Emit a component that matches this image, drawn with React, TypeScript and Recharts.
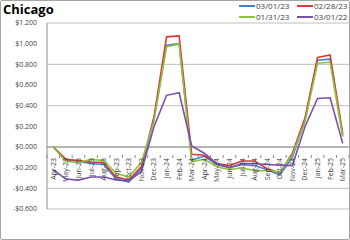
import React from 'react';
import { LineChart, Line, XAxis, YAxis, CartesianGrid, ReferenceLine } from 'recharts';

const months = [
  'Apr-23', 'May-23', 'Jun-23', 'Jul-23', 'Aug-23', 'Sep-23', 'Oct-23', 'Nov-23', 'Dec-23', 'Jan-24', 'Feb-24', 'Mar-24',
  'Apr-24', 'May-24', 'Jun-24', 'Jul-24', 'Aug-24', 'Sep-24', 'Oct-24', 'Nov-24', 'Dec-24', 'Jan-25', 'Feb-25', 'Mar-25',
];

const s030123 = [0.0, -0.12, -0.14, -0.16, -0.17, -0.31, -0.34, -0.21, 0.27, 0.985, 1.0, -0.125,
  -0.09, -0.17, -0.2, -0.17, -0.18, -0.22, -0.27, -0.1, 0.26, 0.84, 0.85, 0.11];
const s022823 = [0.0, -0.12, -0.13, -0.145, -0.15, -0.29, -0.32, -0.19, 0.29, 1.066, 1.075, -0.07,
  -0.08, -0.16, -0.18, -0.135, -0.135, -0.21, -0.25, -0.06, 0.28, 0.866, 0.89, 0.13];
const s013123 = [0.0, -0.14, -0.15, -0.12, -0.13, -0.255, -0.29, -0.15, 0.25, 0.97, 0.995, -0.14,
  -0.12, -0.19, -0.22, -0.2, -0.23, -0.23, -0.24, -0.08, 0.245, 0.81, 0.82, 0.1];
const s030122 = [-0.22, -0.31, -0.32, -0.29, -0.29, -0.32, -0.325, -0.24, 0.196, 0.5, 0.525, 0.01,
  -0.06, -0.16, -0.2, -0.16, -0.16, -0.17, -0.175, -0.18, 0.196, 0.47, 0.476, 0.035];

const yTicks = [-0.6, -0.4, -0.2, 0, 0.2, 0.4, 0.6, 0.8, 1.0, 1.2];

const series = [
  { key: 'a', name: '03/01/23', color: '#3f7fd6', values: s030123 },
  { key: 'b', name: '02/28/23', color: '#d93a35', values: s022823 },
  { key: 'c', name: '01/31/23', color: '#8cc43c', values: s013123 },
  { key: 'd', name: '03/01/22', color: '#7a4fb0', values: s030122 },
];

const data = months.map((m, i) => {
  const row: any = { month: m };
  series.forEach(s => { row[s.key] = s.values[i]; });
  return row;
});

const W = 350;
const H = 240;
const TOP = 23;
const BOTTOM = 31;
const LEFT = 47;
const RIGHT = 1;
const PLOT_H = H - TOP - BOTTOM;
const BAND = (W - LEFT - RIGHT) / months.length;
const Y_MIN = -0.6;
const Y_MAX = 1.2;
// distance from bottom of plot to the zero line
const ZERO_UP = PLOT_H * (0 - Y_MIN) / (Y_MAX - Y_MIN);
const FONT = '"Open Sans", "Noto Sans", sans-serif';

const fmt = (v: number) => (v < 0 ? '-$' + Math.abs(v).toFixed(3) : '$' + v.toFixed(3));

const MonthTick = (props: any) => {
  const { x, y, payload } = props;
  const zy = y - ZERO_UP;
  return (
    <g>
      <line x1={x - BAND / 2} x2={x - BAND / 2} y1={zy} y2={zy + 3} stroke="#8c8c8c" />
      {payload.index === months.length - 1 && (
        <line x1={x + BAND / 2} x2={x + BAND / 2} y1={zy} y2={zy + 3} stroke="#8c8c8c" />
      )}
      <text
        x={x + 2.5}
        y={zy + 3}
        transform={`rotate(-90 ${x + 2.5} ${zy + 3})`}
        textAnchor="end"
        fontSize={7}
        fill="#404040"
        fontFamily={FONT}
      >
        {payload.value}
      </text>
    </g>
  );
};

const LegendBox = () => (
  <div style={{ position: 'absolute', left: 239, top: 0, display: 'grid', gridTemplateColumns: '58px 52px', fontFamily: FONT, fontSize: 8, color: '#404040' }}>
    {series.map(s => (
      <div key={s.key} style={{ display: 'flex', alignItems: 'center', height: 11 }}>
        <span style={{ display: 'inline-block', width: 16, height: 2, background: s.color, marginRight: 1 }} />
        <span>{s.name}</span>
      </div>
    ))}
  </div>
);

export default function App() {
  return (
    <div style={{ position: 'absolute', left: 0, top: 0, width: W, height: H, background: '#fff', overflow: 'hidden' }}>
      <div style={{ position: 'absolute', left: 0, top: 0, width: W, height: H, boxSizing: 'border-box', border: '1px solid #a6a6a6', borderRadius: 2, pointerEvents: 'none', zIndex: 2 }} />
      <div style={{ position: 'absolute', left: 3, top: 0, fontFamily: FONT, fontWeight: 700, fontSize: 13, color: '#000', lineHeight: '19px' }}>
        Chicago
      </div>
      <LegendBox />
      <div style={{ position: 'absolute', left: 0, top: 0 }}>
        <LineChart width={W} height={H} data={data} margin={{ top: TOP, right: RIGHT, bottom: 0, left: 0 }}>
          <CartesianGrid horizontal vertical={false} stroke="#bfbfbf" strokeWidth={1} />
          <XAxis
            dataKey="month"
            height={BOTTOM}
            axisLine={false}
            tickLine={false}
            interval={0}
            padding={{ left: BAND / 2, right: BAND / 2 }}
            tick={<MonthTick />}
          />
          <YAxis
            width={LEFT}
            domain={[Y_MIN, Y_MAX]}
            ticks={yTicks}
            tickFormatter={fmt}
            axisLine={{ stroke: '#8c8c8c' }}
            tickLine={false}
            tick={{ fontSize: 7, fill: '#404040', fontFamily: FONT }}
            tickMargin={4}
          />
          <ReferenceLine y={0} stroke="#8c8c8c" />
          {series.map(s => (
            <Line
              key={s.key}
              dataKey={s.key}
              name={s.name}
              stroke={s.color}
              strokeWidth={1.6}
              dot={false}
              isAnimationActive={false}
            />
          ))}
        </LineChart>
      </div>
    </div>
  );
}
